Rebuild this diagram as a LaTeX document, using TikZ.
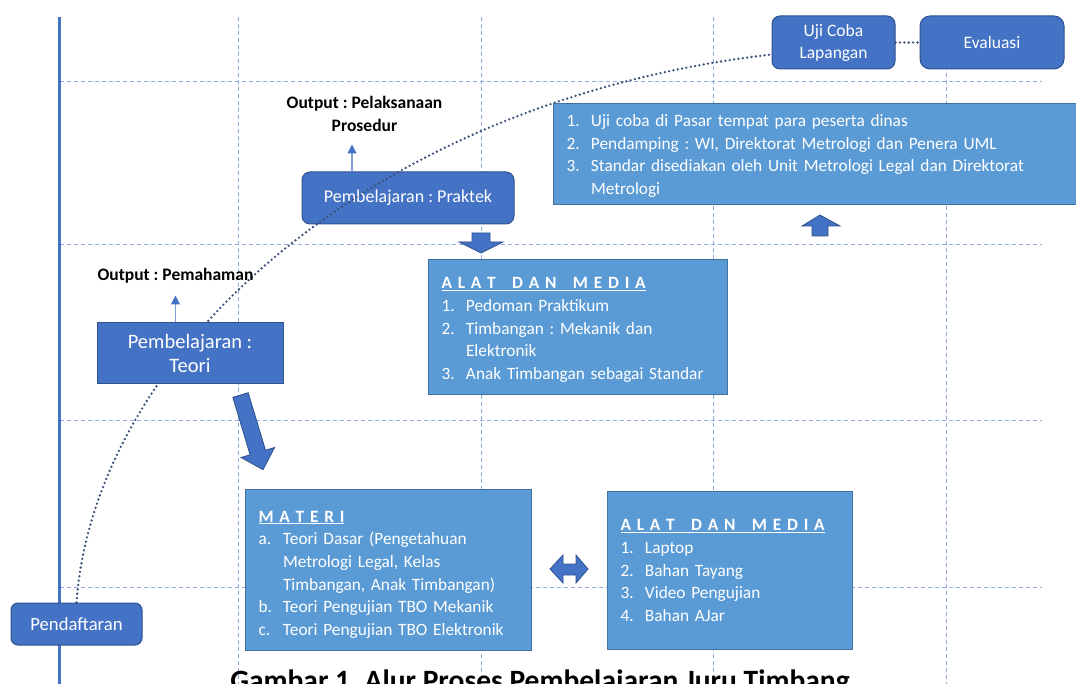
\documentclass[tikz,border=0pt]{standalone}
\usepackage{fontspec}
\setmainfont{Carlito}
\frenchspacing
\usetikzlibrary{arrows.meta}
\definecolor{dkblue}{HTML}{4472C4}
\definecolor{dkborder}{HTML}{2F528F}
\definecolor{ltblue}{HTML}{5B9BD5}
\definecolor{ltborder}{HTML}{41719C}
\definecolor{gridc}{HTML}{8FAADC}
\definecolor{dotc}{HTML}{3A4F7A}
\definecolor{thinc}{HTML}{7F9FD8}
\newcommand{\litem}[2]{\par\noindent\makebox[24.5pt][l]{#1}#2}
\newcommand{\lcont}[1]{\par\noindent\hspace*{24.5pt}#1}
\newcommand{\boxhdr}[2][0pt]{\noindent\rule{0pt}{\dimexpr 11.5pt+#1\relax}\underline{\bfseries #2}}
\newcommand{\hls}{\hspace{5.8pt}}
\newcommand{\hws}{\hspace{16.4pt}}
\tikzset{
  darkbox/.style={draw=dkborder, fill=dkblue, text=white, line width=1pt, align=center, inner sep=0pt},
  roundbox/.style={darkbox, rounded corners=8pt},
  listbox/.style={draw=ltborder, fill=ltblue, text=white, line width=1pt, align=left,
    inner xsep=13pt, inner ysep=0pt, anchor=north west, font=\fontsize{17.3}{22.7}\selectfont},
  gridline/.style={draw=gridc, line width=0.9pt, dash pattern=on 4pt off 3pt},
  axisline/.style={draw=dkblue, line width=3pt},
  dotcurve/.style={draw=dotc, line width=2.6pt, line cap=round, dash pattern=on 0pt off 4.4pt},
  outlabel/.style={font=\bfseries\fontsize{17.5}{23}\selectfont, align=center, inner sep=0pt, text=black},
  thinarrow/.style={draw=thinc, line width=1.1pt, -{Triangle[width=9pt,length=9pt,color=dkblue]}},
  blockarrow/.style={fill=dkblue, draw=dkborder, line width=0.8pt, line join=miter},
}
\begin{document}
\begin{tikzpicture}[x=1pt, y=-1pt]
\useasboundingbox (0,0) rectangle (1076,684);
% grid
\foreach \yy in {81,244,420,587} \draw[gridline] (60,\yy) -- (1042,\yy);
\foreach \xx in {238,481,713,946} \draw[gridline] (\xx,17) -- (\xx,684);
\draw[axisline] (59,17) -- (59,684);
% boxes under the curve
\node[roundbox, minimum width=212pt, minimum height=52pt, font=\fontsize{18}{22}\selectfont] (praktek) at (408,198) {Pembelajaran : Praktek};
\node[roundbox, rounded corners=7pt, minimum width=131pt, minimum height=42pt, font=\fontsize{18.7}{22}\selectfont] (pendaftaran) at (76.5,624) {Pendaftaran};
\node[roundbox, minimum width=123pt, minimum height=53pt, font=\fontsize{17.5}{22}\selectfont] (ujicoba) at (833.5,42.5) {Uji Coba\\Lapangan};
\node[roundbox, rounded corners=10pt, minimum width=144pt, minimum height=53pt, font=\fontsize{17.5}{22}\selectfont] (evaluasi) at (992,42.5) {Evaluasi};
% dotted path
\draw[dotcurve] (pendaftaran.north) .. controls (95,350) and (375,100) .. ([yshift=-12pt]ujicoba.west);
\draw[dotcurve] (ujicoba.east) -- (evaluasi.west);
% boxes over the curve
\node[darkbox, minimum width=186pt, minimum height=61pt, font=\fontsize{20.5}{24}\selectfont] (teori) at (190,353.5) {Pembelajaran :\\Teori};
\node[listbox, minimum width=529pt, minimum height=101pt, text width=503pt] (toplist) at (553,103) {%
\litem{1.}{Uji coba di Pasar tempat para peserta dinas}
\litem{2.}{Pendamping : WI, Direktorat Metrologi dan Penera UML}
\litem{3.}{Standar disediakan oleh Unit Metrologi Legal dan Direktorat}
\lcont{Metrologi}\par\vspace*{7pt}};
\node[listbox, minimum width=299pt, minimum height=135pt, text width=273pt] (alat1) at (428,259) {%
\boxhdr[6pt]{A\hls L\hls A\hls T\hws D\hls A\hls N\hws M\hls E\hls D\hls I\hls A}
\litem{1.}{Pedoman Praktikum}
\litem{2.}{Timbangan : Mekanik dan}
\lcont{Elektronik}
\litem{3.}{Anak Timbangan sebagai Standar}};
\node[listbox, minimum width=286pt, minimum height=161pt, text width=260pt] (materi) at (245,489) {%
\boxhdr[9pt]{M\hls A\hls T\hls E\hls R\hls I}
\litem{a.}{Teori Dasar (Pengetahuan}
\lcont{Metrologi Legal, Kelas}
\lcont{Timbangan, Anak Timbangan)}
\litem{b.}{Teori Pengujian TBO Mekanik}
\litem{c.}{Teori Pengujian TBO Elektronik}};
\node[listbox, minimum width=245pt, minimum height=158pt, text width=219pt] (alat2) at (607,491) {%
\boxhdr{A\hls L\hls A\hls T\hws D\hls A\hls N\hws M\hls E\hls D\hls I\hls A}
\litem{1.}{Laptop}
\litem{2.}{Bahan Tayang}
\litem{3.}{Video Pengujian}
\litem{4.}{Bahan AJar}};
% output labels
\node[outlabel] (out1) at (175.5,276) {Output : Pemahaman};
\node[outlabel] (out2) at (364.5,114) {Output : Pelaksanaan\\Prosedur};
\draw[thinarrow] (teori.north -| out1.south) -- ++(0,-27);
\draw[thinarrow] ([xshift=-56pt]praktek.north) -- ++(0,-27);
% block arrows
\draw[blockarrow] (472,233) -- (490,233) -- (490,242) -- (503,242) -- (481,253) -- (459,242) -- (472,242) -- cycle;
\draw[blockarrow] (812,236) -- (828,236) -- (828,226) -- (840,226) -- (820,215) -- (802,226) -- (812,226) -- cycle;
\draw[blockarrow] (550,569) -- (563,555) -- (563,564) -- (576,564) -- (576,555) -- (588,569) -- (576,583) -- (576,575) -- (563,575) -- (563,583) -- cycle;
\draw[blockarrow] (232.8,397.3) -- (248.2,392.7) -- (265.5,450.2) -- (274.6,447.5) -- (263,469.7) -- (241,457.5) -- (250.1,454.8) -- cycle;
% caption
\node[font=\bfseries\fontsize{29.5}{32}\selectfont, anchor=base, inner sep=0pt] (caption) at (540,690) {Gambar 1. Alur Proses Pembelajaran Juru Timbang};
\end{tikzpicture}
\end{document}
